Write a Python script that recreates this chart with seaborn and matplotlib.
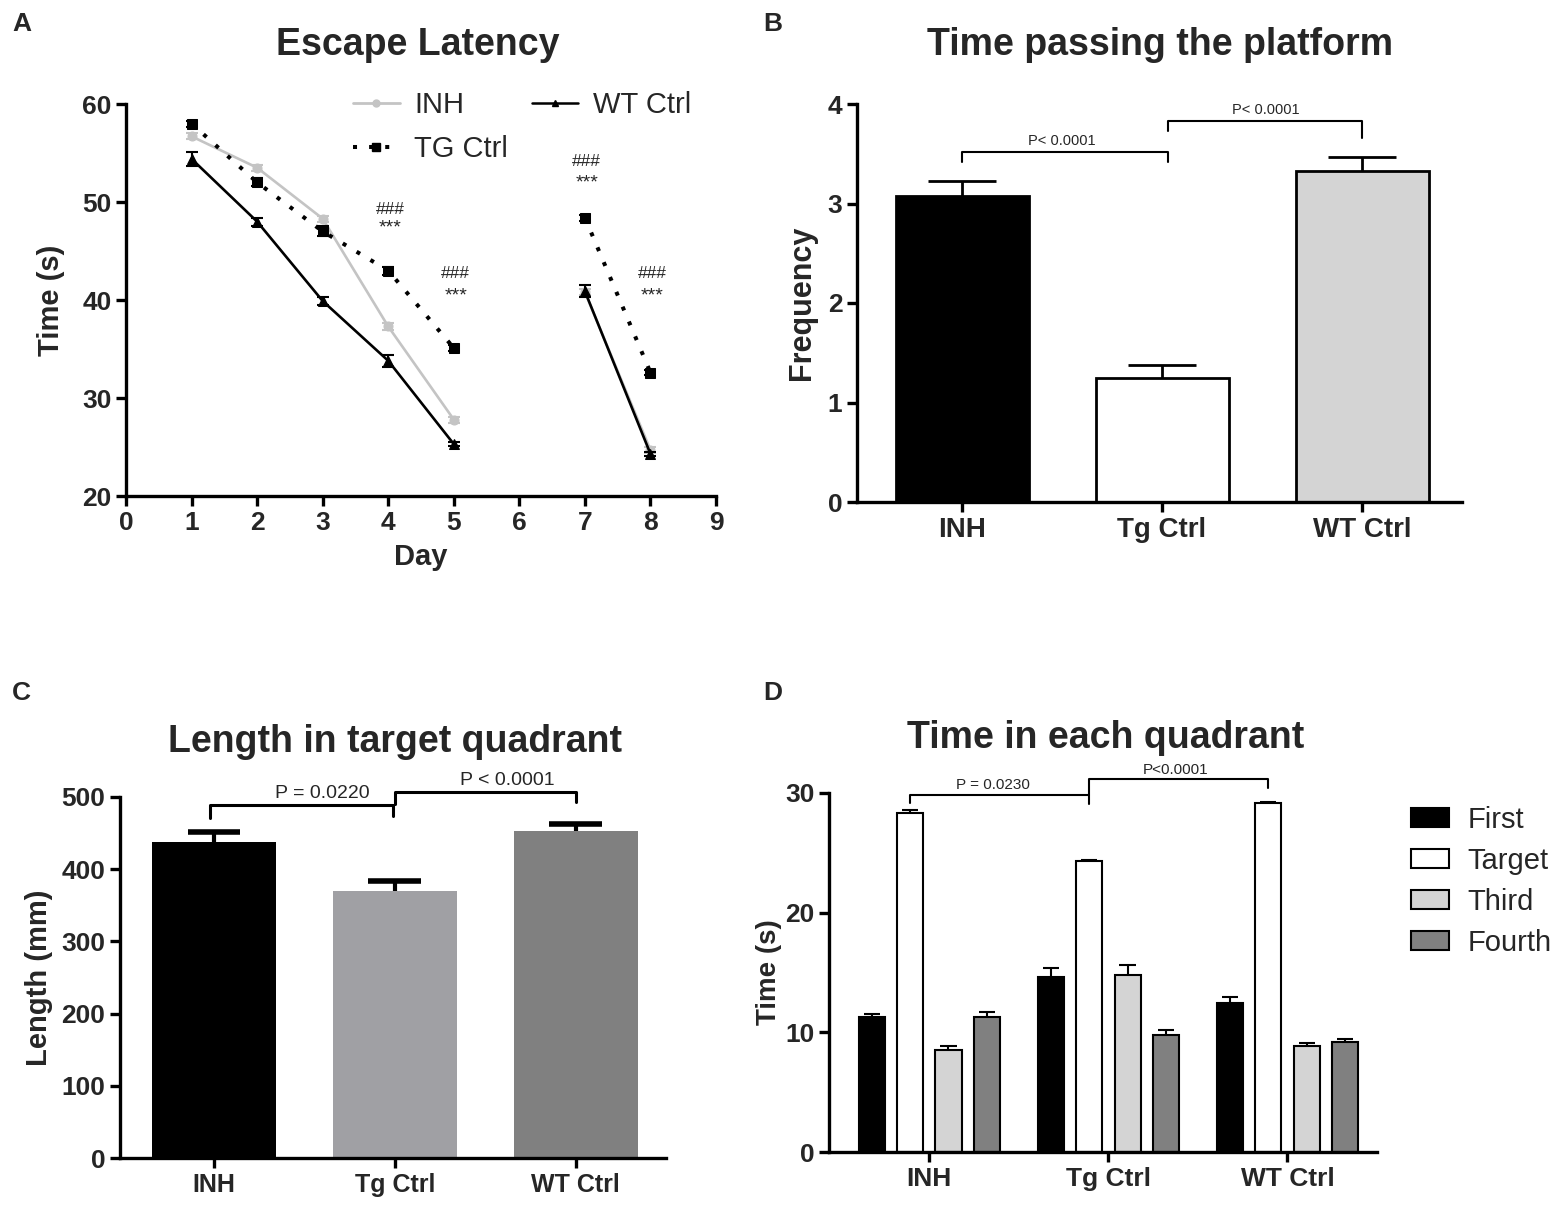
import numpy as np
import pandas as pd
import matplotlib
matplotlib.use("Agg")
import matplotlib.pyplot as plt
import seaborn as sns
from matplotlib.lines import Line2D
from matplotlib.patches import Patch

sns.set_theme(style="ticks")
plt.rcParams['font.family'] = ['Liberation Sans', 'DejaVu Sans']

# ---------------- data ----------------
# Panel A: escape latency
days_p1 = [1, 2, 3, 4, 5]
days_p2 = [7, 8]
inh_p1 = [56.7, 53.5, 48.3, 37.3, 27.8]
inh_p2 = [40.8, 24.7]
tg_p1 = [58.0, 52.0, 47.0, 43.0, 35.1]
tg_p2 = [48.4, 32.6]
wt_p1 = [54.4, 48.0, 39.9, 33.8, 25.3]
wt_p2 = [40.9, 24.3]
inh_err_p1 = [0.3, 0.3, 0.3, 0.4, 0.3]
inh_err_p2 = [0.3, 0.3]
tg_err_p1 = [0.3, 0.4, 0.5, 0.4, 0.3]
tg_err_p2 = [0.3, 0.3]
wt_err_p1 = [0.7, 0.4, 0.4, 0.6, 0.2]
wt_err_p2 = [0.6, 0.2]
a_xticks = [0, 1, 2, 3, 4, 5, 6, 7, 8, 9]
a_yticks = [20, 30, 40, 50, 60]
a_sig_days = [4, 5, 7, 8]
a_hash_y = [49.2, 42.7, 54.1, 42.7]
a_star_y = [47.4, 40.4, 51.9, 40.4]

# Panel B: time passing the platform
groups_b = ["INH", "Tg Ctrl", "WT Ctrl"]
freq_b = [3.08, 1.25, 3.33]
freq_b_err = [0.15, 0.13, 0.14]
b_yticks = [0, 1, 2, 3, 4]

# Panel C: length in target quadrant
groups_c = ["INH", "Tg Ctrl", "WT Ctrl"]
length_c = [438, 370, 453]
length_c_err = [13, 13, 9]
c_yticks = [0, 100, 200, 300, 400, 500]

# Panel D: time in each quadrant
groups_d = ["INH", "Tg Ctrl", "WT Ctrl"]
quadrants = ["First", "Target", "Third", "Fourth"]
first_d = [11.26, 14.64, 12.45]
target_d = [28.3, 24.3, 29.2]
third_d = [8.56, 14.8, 8.86]
fourth_d = [11.32, 9.74, 9.19]
first_err = [0.3, 0.73, 0.52]
target_err = [0.27, 0.1, 0.05]
third_err = [0.3, 0.8, 0.29]
fourth_err = [0.38, 0.49, 0.28]
d_yticks = [0, 10, 20, 30]

# ---------------- figure ----------------
fig = plt.figure(figsize=(15.62, 12.08), dpi=100)
W, H = 1562, 1208

def axes_px(l, t, r, b):
    return fig.add_axes([l / W, 1 - b / H, (r - l) / W, (b - t) / H])

def title_px(x, y, s):
    fig.text(x / W, 1 - y / H, s, fontsize=27, fontweight="bold", ha="center", va="center")

def style_axes(ax, lw=2.4):
    for s in ["top", "right"]:
        ax.spines[s].set_visible(False)
    for s in ["left", "bottom"]:
        ax.spines[s].set_linewidth(lw)
        ax.spines[s].set_color("black")
    ax.tick_params(axis="both", direction="out", length=7, width=lw, color="black")
    ax.set_facecolor("white")

def upper_err(ax, xs, tops, errs, half_cap, lw, cap_lw):
    xs = np.asarray(xs, float)
    tops = np.asarray(tops, float)
    ends = tops + np.asarray(errs, float)
    ax.vlines(xs, tops, ends, colors="black", linewidth=lw, zorder=0.5)
    ax.hlines(ends, xs - half_cap, xs + half_cap, colors="black", linewidth=cap_lw, zorder=0.5)

TICKF = dict(fontsize=19, fontweight="bold")

# ---- Panel A ----
axA = axes_px(126, 104, 716, 496)
series = [
    ("INH", [inh_p1, inh_p2], [inh_err_p1, inh_err_p2], "#c4c4c4", "o", "-"),
    ("WT Ctrl", [wt_p1, wt_p2], [wt_err_p1, wt_err_p2], "black", "^", "-"),
    ("TG Ctrl", [tg_p1, tg_p2], [tg_err_p1, tg_err_p2], "black", "s", (0, (1, 3.0))),
]
order_z = {"INH": 2, "WT Ctrl": 3, "TG Ctrl": 4}
for name, vals, errs, col, mk, ls in series:
    for dd, vv, ee in zip([days_p1, days_p2], vals, errs):
        dfa = pd.DataFrame({"Day": dd, "Time": vv})
        sns.lineplot(data=dfa, x="Day", y="Time", ax=axA, color=col, marker=mk,
                     markersize=7.5 if mk == "s" else 6.5, markeredgecolor=col,
                     linestyle=ls, linewidth=2.9 if mk == "s" else 1.9,
                     estimator=None, zorder=order_z[name])
        axA.errorbar(dd, vv, yerr=ee, fmt="none", ecolor=col, elinewidth=1.5,
                     capsize=4, capthick=1.5, zorder=order_z[name])
axA.set_xlim(0, 9)
axA.set_ylim(20, 60)
axA.set_xticks(a_xticks)
axA.set_yticks(a_yticks)
axA.set_xticklabels([str(v) for v in a_xticks], **TICKF)
axA.set_yticklabels([str(v) for v in a_yticks], **TICKF)
axA.set_xlabel("Day", fontsize=21, fontweight="bold", labelpad=6)
axA.set_ylabel("Time (s)", fontsize=21, fontweight="bold", labelpad=12)
style_axes(axA)
for d, hy, sy in zip(a_sig_days, a_hash_y, a_star_y):
    axA.text(d + 0.03, hy, "###", ha="center", va="center", fontsize=12.5)
    axA.text(d + 0.03, sy, "***", ha="center", va="center", fontsize=14)
hA = [
    Line2D([], [], color="#c4c4c4", marker="o", markersize=5, lw=2.0),
    Line2D([], [], color="black", marker="s", markersize=6, lw=2.9, linestyle=(0, (1, 3.0))),
    Line2D([], [], color="black", marker="^", markersize=5, lw=1.8),
]
axA.legend(hA, ["INH", "TG Ctrl", "WT Ctrl"], ncol=2, loc="upper left",
           bbox_to_anchor=(0.37, 1.055), frameon=False, fontsize=21,
           handlelength=1.6, handletextpad=0.5, columnspacing=0.8,
           labelspacing=0.55, borderaxespad=0, borderpad=0.3)
title_px(418, 45, "Escape Latency")

# ---- Panel B ----
axB = axes_px(857, 104, 1462, 502)
dfB = pd.DataFrame({"Group": groups_b, "Frequency": freq_b})
sns.barplot(data=dfB, x="Group", y="Frequency", hue="Group",
            palette=["black", "white", "#d4d4d4"], width=0.665,
            edgecolor="black", linewidth=2.0, errorbar=None, legend=False, ax=axB)
xb = np.arange(len(groups_b))
upper_err(axB, xb, freq_b, freq_b_err, 0.17, 2.0, 2.0)
axB.set_xlim(-0.525, 2.5)
axB.set_ylim(0, 4)
axB.set_yticks(b_yticks)
axB.set_yticklabels([str(v) for v in b_yticks], **TICKF)
axB.set_xticks(xb)
axB.set_xticklabels(groups_b, fontsize=20, fontweight="bold")
axB.set_xlabel("")
axB.set_ylabel("Frequency", fontsize=22, fontweight="bold", labelpad=8)
style_axes(axB)
axB.plot([0, 0, 1.03, 1.03], [3.42, 3.52, 3.52, 3.42], color="black", lw=1.5)
axB.text(0.5, 3.56, "P< 0.0001", ha="center", va="bottom", fontsize=10.5)
axB.plot([1.03, 1.03, 2.0, 2.0], [3.73, 3.83, 3.83, 3.66], color="black", lw=1.5)
axB.text(1.52, 3.87, "P< 0.0001", ha="center", va="bottom", fontsize=10.5)
title_px(1160, 45, "Time passing the platform")

# ---- Panel C ----
axC = axes_px(120, 797, 666, 1158)
dfC = pd.DataFrame({"Group": groups_c, "Length": length_c})
sns.barplot(data=dfC, x="Group", y="Length", hue="Group",
            palette=["black", "#a0a0a4", "#808080"], width=0.685,
            edgecolor="none", linewidth=0, errorbar=None, legend=False, ax=axC)
xc = np.arange(len(groups_c))
upper_err(axC, xc, length_c, length_c_err, 0.146, 3.0, 4.0)
axC.set_xlim(-0.52, 2.5)
axC.set_ylim(0, 500)
axC.set_yticks(c_yticks)
axC.set_yticklabels([str(v) for v in c_yticks], **TICKF)
axC.set_xticks(xc)
axC.set_xticklabels(groups_c, fontsize=18, fontweight="bold")
axC.set_xlabel("")
axC.set_ylabel("Length (mm)", fontsize=21, fontweight="bold", labelpad=6)
style_axes(axC)
axC.plot([-0.02, -0.02, 0.99, 0.99], [471, 489.5, 489.5, 473], color="black", lw=2.2, clip_on=False)
axC.text(0.6, 493, "P = 0.0220", ha="center", va="bottom", fontsize=14)
axC.plot([1.0, 1.0, 2.0, 2.0], [490, 507.5, 507.5, 493], color="black", lw=2.2, clip_on=False)
axC.text(1.62, 511, "P < 0.0001", ha="center", va="bottom", fontsize=14)
title_px(395, 742, "Length in target quadrant")

# ---- Panel D ----
axD = axes_px(829, 793, 1377, 1152)
dfD = pd.DataFrame({
    "Group": groups_d * 4,
    "Quadrant": sum([[q] * 3 for q in quadrants], []),
    "Time": first_d + target_d + third_d + fourth_d,
})
errs_d = [first_err, target_err, third_err, fourth_err]
colsD = ["black", "white", "#d4d4d4", "#808080"]
sns.barplot(data=dfD, x="Group", y="Time", hue="Quadrant", hue_order=quadrants,
            palette=colsD, width=0.857, gap=0.32, edgecolor="black", linewidth=1.5,
            errorbar=None, legend=False, ax=axD)
for cont, errs in zip(axD.containers, errs_d):
    xs = [b.get_x() + b.get_width() / 2 for b in cont]
    hs = [b.get_height() for b in cont]
    upper_err(axD, xs, hs, errs, 0.045, 1.5, 1.5)
axD.set_xlim(-0.56, 2.5)
axD.set_ylim(0, 30)
axD.set_yticks(d_yticks)
axD.set_yticklabels([str(v) for v in d_yticks], **TICKF)
axD.set_xticks(np.arange(3))
axD.set_xticklabels(groups_d, fontsize=19, fontweight="bold")
axD.set_xlabel("")
axD.set_ylabel("Time (s)", fontsize=20, fontweight="bold", labelpad=2)
style_axes(axD)
tgt = [b.get_x() + b.get_width() / 2 for b in axD.containers[1]]
axD.plot([tgt[0], tgt[0], tgt[1], tgt[1]], [29.15, 29.87, 29.87, 29.1], color="black", lw=1.5, clip_on=False)
axD.text((tgt[0] + tgt[1]) / 2 - 0.04, 30.1, "P = 0.0230", ha="center", va="bottom", fontsize=11)
axD.plot([tgt[1], tgt[1], tgt[2], tgt[2]], [29.87, 31.14, 31.14, 30.4], color="black", lw=1.5, clip_on=False)
axD.text((tgt[1] + tgt[2]) / 2 - 0.02, 31.35, "P<0.0001", ha="center", va="bottom", fontsize=11)
hD = [Patch(facecolor=c, edgecolor="black", linewidth=1.5) for c in colsD]
axD.legend(hD, quadrants, loc="upper left", bbox_to_anchor=(1.062, 0.965), frameon=False,
           fontsize=21, handlelength=1.3, handleheight=0.65, handletextpad=0.65,
           labelspacing=0.45, borderaxespad=0, borderpad=0)
title_px(1106, 738, "Time in each quadrant")

# panel letters
for letter, (px, py) in zip("ABCD", [(12, 24), (763, 24), (12, 693), (763, 693)]):
    fig.text(px / W, 1 - py / H, letter, fontsize=19, fontweight="bold", ha="left", va="center")

fig.savefig("out.png", dpi=100, facecolor="white")
